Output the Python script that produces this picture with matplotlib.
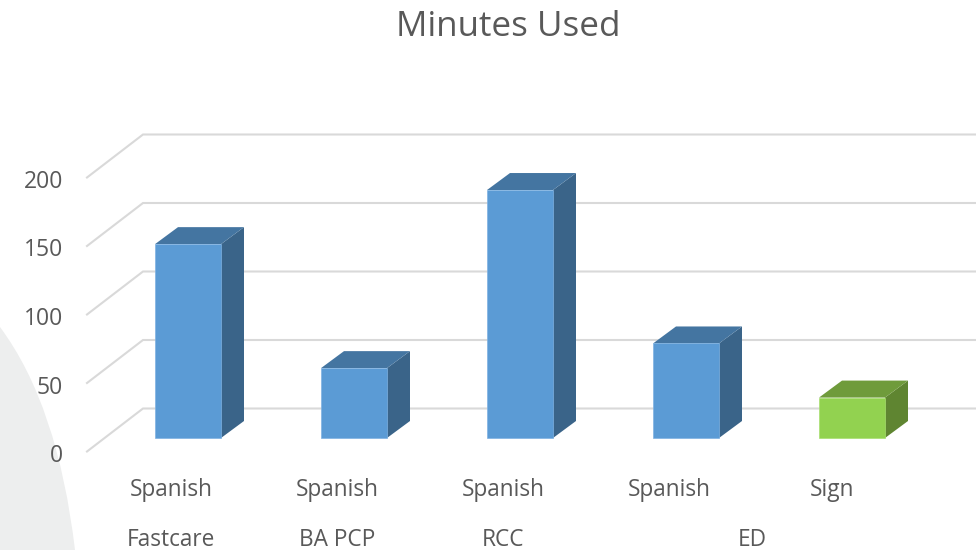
import matplotlib
matplotlib.use("Agg")
import matplotlib.pyplot as plt
from matplotlib.patches import Polygon, PathPatch
from matplotlib.path import Path

plt.rcParams['font.family'] = ['Open Sans', 'DejaVu Sans']

# Chart data
title = "Minutes Used"
languages = ["Spanish", "Spanish", "Spanish", "Spanish", "Sign"]
minutes = [141.5, 51, 181, 69, 29.5]
sites = ["Fastcare", "BA PCP", "RCC", "ED"]
site_centers = [0, 1, 2, 3.5]
axis_ticks = [0, 50, 100, 150, 200]

front_colors = ["#5b9bd5", "#5b9bd5", "#5b9bd5", "#5b9bd5", "#92d250"]
top_colors = ["#4475a1", "#4475a1", "#4475a1", "#4475a1", "#6f9b3b"]
side_colors = ["#3a6489", "#3a6489", "#3a6489", "#3a6489", "#5f8531"]
edge_colors = ["#7fb2e2", "#7fb2e2", "#7fb2e2", "#7fb2e2", "#a8de70"]
text_color = "#595959"
grid_color = "#d9d9d9"

W, H = 976, 550
PX_PER_CAT = 166.0
PX_PER_MIN = 1.37
X0_PX, Y0_PX = 188.0, 438.0

fig = plt.figure(figsize=(W / 100, H / 100), dpi=100, facecolor="white")
ax = fig.add_axes([0, 0, 1, 1])
ax.set_xlim(-X0_PX / PX_PER_CAT, (W - X0_PX) / PX_PER_CAT)
ax.set_ylim((Y0_PX - H) / PX_PER_MIN, Y0_PX / PX_PER_MIN)
ax.axis("off")

dx = lambda px: px / PX_PER_CAT
dy = lambda px: px / PX_PER_MIN

# Pale curved shape in the lower-left corner, in axes fractions
corner = Path(
    [(0, 1 - 327 / H), (58 / W, 1 - 405 / H), (75 / W, 0), (0, 0), (0, 1 - 327 / H)],
    [Path.MOVETO, Path.CURVE3, Path.CURVE3, Path.LINETO, Path.CLOSEPOLY],
)
ax.add_patch(PathPatch(corner, transform=ax.transAxes, fc="#edeeee", ec="none", zorder=0))

# Gridlines: a slanted floor segment followed by the back-wall line
left_front = -X0_PX / PX_PER_CAT + dx(87)
left_back = -X0_PX / PX_PER_CAT + dx(143)
right_edge = (W - X0_PX) / PX_PER_CAT
for t in axis_ticks:
    y_front = t - dy(13.5)
    y_back = t + dy(29.5)
    ax.plot([left_front, left_back, right_edge], [y_front, y_back, y_back],
            color=grid_color, lw=1.5, solid_joinstyle="miter", zorder=1)
    ax.text(-X0_PX / PX_PER_CAT + dx(63), t - dy(15), str(t), ha="right", va="center_baseline",
            fontsize=16.5, color=text_color)

# 3-D style columns: side and top faces are offset from the front face
half = dx(33)
ox, oy = dx(23), dy(17)
for i, v in enumerate(minutes):
    ax.add_patch(Polygon([(i + half, 0), (i + half + ox, oy), (i + half + ox, v + oy), (i + half, v)],
                         closed=True, fc=side_colors[i], ec="none", zorder=3))
    ax.add_patch(Polygon([(i - half, v), (i + half, v), (i + half + ox, v + oy), (i - half + ox, v + oy)],
                         closed=True, fc=top_colors[i], ec="none", zorder=3))
    ax.bar(i, v, width=2 * half, color=front_colors[i], edgecolor=edge_colors[i], linewidth=0.5, zorder=4)

# Two-level category labels
label_shift = dx(-17)
for i, name in enumerate(languages):
    shift = label_shift if name != "Sign" else dx(-20)
    ax.text(i + shift, dy(438 - 487), name, ha="center", va="center_baseline",
            fontsize=16.3, color=text_color)
for c, name in zip(site_centers, sites):
    ax.text(c + label_shift, dy(438 - 537.5), name, ha="center", va="center_baseline",
            fontsize=16.3, color=text_color)

ax.text((508 - X0_PX) / PX_PER_CAT, dy(438 - 23), title, ha="center", va="center_baseline",
        fontsize=25.2, color=text_color)

fig.savefig("out.png", dpi=100)
